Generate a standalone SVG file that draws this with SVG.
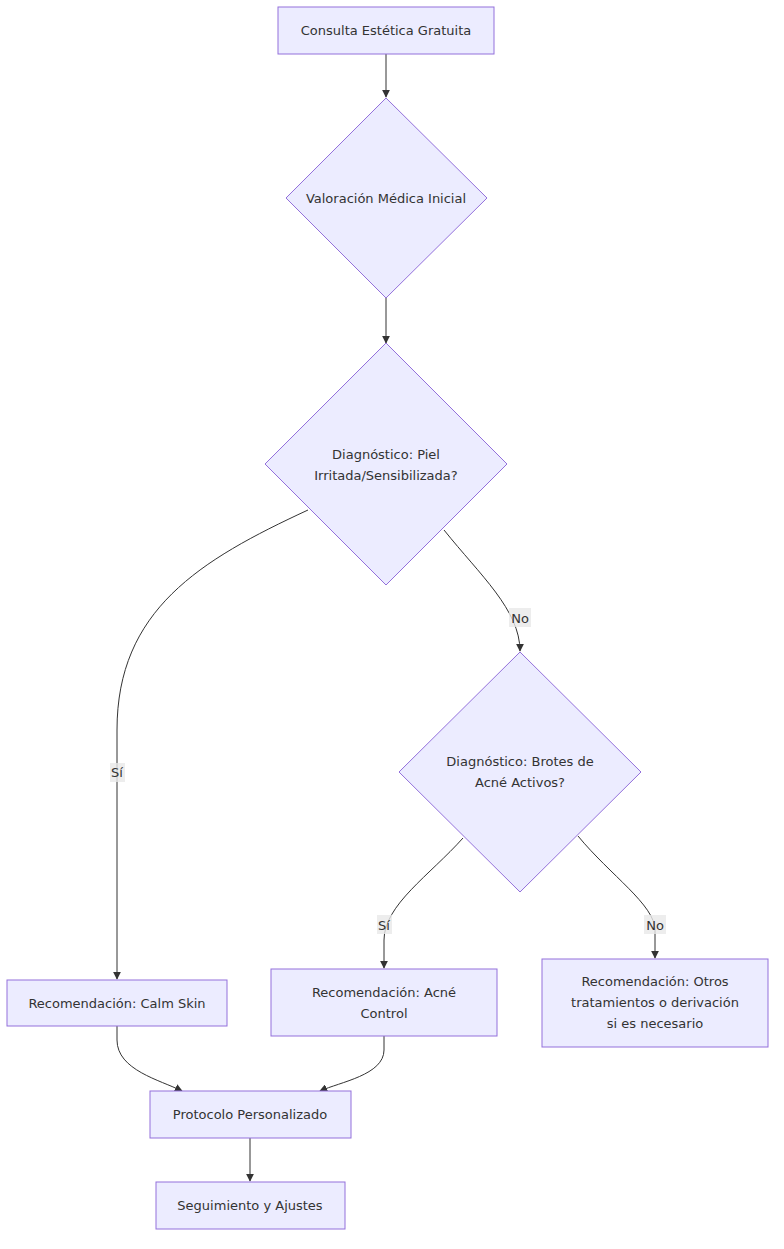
<svg xmlns="http://www.w3.org/2000/svg" width="784" height="1249" viewBox="0 0 784 1249">
<style>
.n{fill:#ECECFF;stroke:#9370DB;stroke-width:1}
.t{font-family:"DejaVu Sans","Liberation Sans",sans-serif;font-size:13px;fill:#333;text-anchor:middle;dominant-baseline:central}
.e{fill:none;stroke:#333;stroke-width:1;marker-end:url(#a)}
.lb{fill:#e8e8e8;opacity:0.8}
</style>
<defs><marker id="a" viewBox="0 0 10 10" refX="9" refY="5" markerWidth="8" markerHeight="8" orient="auto"><path d="M0,0L10,5L0,10z" fill="#333"/></marker></defs>
<rect width="784" height="1249" fill="#fff"/>
<g id="edges">
<path class="e" d="M386,54V97"/>
<path class="e" d="M386,298V343"/>
<path class="e" d="M308,510C200,560 117,610 117,730V979"/>
<path class="e" d="M444,530C480,575 520,610 520,651"/>
<path class="e" d="M463,838C430,875 384,905 384,940V968"/>
<path class="e" d="M578,836C610,875 655,905 655,930V958"/>
<path class="e" d="M117,1026V1040C117,1070 160,1080 182,1091"/>
<path class="e" d="M384,1036V1050C384,1075 340,1082 320,1091"/>
<path class="e" d="M250,1138V1181"/>
<rect class="lb" x="110" y="763" width="15" height="19"/><text class="t" x="117" y="772">Sí</text>
<rect class="lb" x="509" y="608" width="22" height="19"/><text class="t" x="520" y="618">No</text>
<rect class="lb" x="377" y="915" width="15" height="19"/><text class="t" x="384" y="925">Sí</text>
<rect class="lb" x="644" y="915" width="22" height="19"/><text class="t" x="655" y="925">No</text>
</g>
<g id="A"><rect class="n" x="278" y="7" width="216" height="47"/><text class="t" x="386" y="30">Consulta Estética Gratuita</text></g>
<g id="B"><polygon class="n" points="386,98 487,198 386,298 286,198"/><text class="t" x="386" y="198">Valoración Médica Inicial</text></g>
<g id="C"><polygon class="n" points="386,343 507,464 386,585 265,464"/><text class="t" x="386" y="454">Diagnóstico: Piel</text><text class="t" x="386" y="475">Irritada/Sensibilizada?</text></g>
<g id="D"><polygon class="n" points="520,652 641,772 520,892 399,772"/><text class="t" x="520" y="761">Diagnóstico: Brotes de</text><text class="t" x="520" y="782">Acné Activos?</text></g>
<g id="E"><rect class="n" x="7" y="980" width="220" height="46"/><text class="t" x="117" y="1003">Recomendación: Calm Skin</text></g>
<g id="F"><rect class="n" x="271" y="969" width="226" height="67"/><text class="t" x="384" y="992">Recomendación: Acné</text><text class="t" x="384" y="1013">Control</text></g>
<g id="G"><rect class="n" x="542" y="959" width="226" height="88"/><text class="t" x="655" y="981">Recomendación: Otros</text><text class="t" x="655" y="1002">tratamientos o derivación</text><text class="t" x="655" y="1023">si es necesario</text></g>
<g id="H"><rect class="n" x="150" y="1091" width="201" height="47"/><text class="t" x="250" y="1114">Protocolo Personalizado</text></g>
<g id="I"><rect class="n" x="156" y="1182" width="189" height="47"/><text class="t" x="250" y="1205">Seguimiento y Ajustes</text></g>
</svg>
